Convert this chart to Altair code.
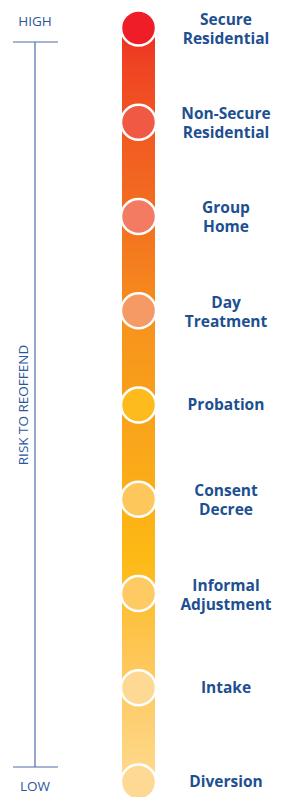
import altair as alt
import pandas as pd

# Data
labels = ["Secure\nResidential", "Non-Secure\nResidential", "Group\nHome", "Day\nTreatment",
          "Probation", "Consent\nDecree", "Informal\nAdjustment", "Intake", "Diversion"]
risk = [9, 8, 7, 6, 5, 4, 3, 2, 1]
circle_colors = ["#EE1D27", "#F05A45", "#F37B62", "#F59A64", "#FDBB1E",
                 "#FDC75C", "#FDCA63", "#FED993", "#FED993"]
axis_text = ["HIGH", "LOW"]
axis_title = "RISK TO REOFFEND"

df = pd.DataFrame({"label": labels, "risk": risk, "color": circle_colors})
df["nlines"] = df["label"].str.count("\n") + 1
bar_df = pd.DataFrame({"top": [max(risk)], "bottom": [min(risk)]})

yscale = alt.Scale(domain=[0.841, 9.212], nice=False, zero=False)
blue = "#2B579A"
label_blue = "#1D4F91"
axis_col = "#4E6CA6"

gradient = alt.Gradient(
    gradient="linear",
    stops=[
        alt.GradientStop(color="#EE2D24", offset=0.0),
        alt.GradientStop(color="#EF4423", offset=0.05),
        alt.GradientStop(color="#F15A22", offset=0.14),
        alt.GradientStop(color="#F3711F", offset=0.26),
        alt.GradientStop(color="#F7941D", offset=0.40),
        alt.GradientStop(color="#FAA71A", offset=0.56),
        alt.GradientStop(color="#FDB913", offset=0.70),
        alt.GradientStop(color="#FEC552", offset=0.82),
        alt.GradientStop(color="#FECF72", offset=0.92),
        alt.GradientStop(color="#FEDB90", offset=1.0),
    ],
    x1=0, x2=0, y1=0, y2=1,
)

bar = alt.Chart(bar_df).mark_rect(color=gradient).encode(
    x=alt.value(114), x2=alt.value(147),
    y=alt.Y("top:Q", scale=yscale, axis=None),
    y2="bottom:Q",
)

circles = alt.Chart(df).mark_point(filled=True, shape="circle", size=1225, opacity=1,
                                   stroke="white", strokeWidth=2.5).encode(
    x=alt.value(130.5),
    y=alt.Y("risk:Q", scale=yscale, axis=None),
    fill=alt.Color("color:N", scale=None),
)

text_style = dict(lineBreak="\n", font="Open Sans", fontWeight="bold",
                  fontSize=15.5, lineHeight=19, color=label_blue,
                  align="center", baseline="middle")

texts1 = alt.Chart(df).transform_filter("datum.nlines == 1").mark_text(**text_style).encode(
    x=alt.value(218),
    y=alt.Y("risk:Q", scale=yscale, axis=None),
    text="label:N",
)
texts2 = alt.Chart(df).transform_filter("datum.nlines == 2").mark_text(dy=-8, **text_style).encode(
    x=alt.value(218),
    y=alt.Y("risk:Q", scale=yscale, axis=None),
    text="label:N",
)

axis_df = pd.DataFrame({"t": [0]})
vline = alt.Chart(axis_df).mark_rule(color=axis_col, strokeWidth=1.2).encode(
    x=alt.value(27), y=alt.value(34), y2=alt.value(759))
htop = alt.Chart(axis_df).mark_rule(color=axis_col, strokeWidth=1.2).encode(
    x=alt.value(5), x2=alt.value(50), y=alt.value(34))
hbot = alt.Chart(axis_df).mark_rule(color=axis_col, strokeWidth=1.2).encode(
    x=alt.value(5), x2=alt.value(50), y=alt.value(759))

small_style = dict(font="Open Sans", fontSize=13.5, color=blue, align="center", baseline="middle")
high = alt.Chart(pd.DataFrame({"t": [axis_text[0]]})).mark_text(**small_style).encode(
    x=alt.value(27), y=alt.value(14), text="t:N")
low = alt.Chart(pd.DataFrame({"t": [axis_text[1]]})).mark_text(**small_style).encode(
    x=alt.value(27), y=alt.value(779), text="t:N")
risk_lbl = alt.Chart(pd.DataFrame({"t": [axis_title]})).mark_text(angle=270, **small_style).encode(
    x=alt.value(16), y=alt.value(397), text="t:N")

chart = alt.layer(bar, circles, texts1, texts2, vline, htop, hbot, high, low, risk_lbl).properties(
    width=272, height=789, padding=0,
    autosize=alt.AutoSizeParams(type="none"),
).configure_view(strokeWidth=0)

chart.save("out.html", embed_options={"renderer": "svg", "actions": False})
